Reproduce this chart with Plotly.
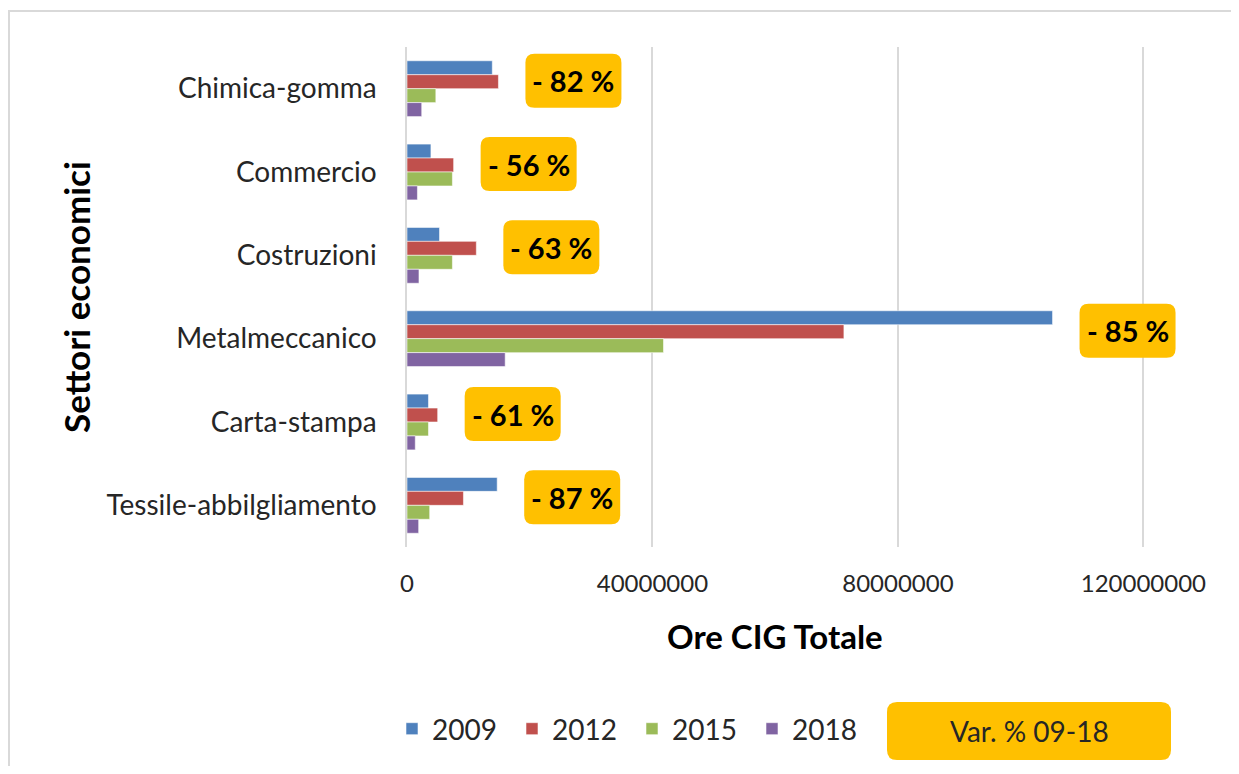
import plotly.graph_objects as go

# ---- data ----
sectors = ["Chimica-gomma", "Commercio", "Costruzioni", "Metalmeccanico",
           "Carta-stampa", "Tessile-abbilgliamento"]
years = ["2009", "2012", "2015", "2018"]
v2009 = [13900000, 3900000, 5300000, 105200000, 3500000, 14700000]
v2012 = [14900000, 7600000, 11300000, 71200000, 5000000, 9200000]
v2015 = [4700000, 7400000, 7400000, 41800000, 3500000, 3700000]
v2018 = [2400000, 1700000, 1950000, 16000000, 1350000, 1900000]
var_labels = ["- 82 %", "- 56 %", "- 63 %", "- 85 %", "- 61 %", "- 87 %"]
x_ticks = [0, 40000000, 80000000, 120000000]
x_ticktext = ["0", "40000000", "80000000", "120000000"]
colors = ["#4F81BD", "#C0504D", "#9BBB59", "#8064A2"]

# ---- layout constants (pixels, in window coordinates) ----
OFF = 8                      # default body margin of the html page
W, H = 1239 - 2 * OFF, 774 - 2 * OFF
L, R, T, B = 407 - OFF, 1217 - OFF, 47 - OFF, 547 - OFF
XMAX = 132000000
FONT = "Lato"
TXT = "#262626"
ORANGE = "#FFC000"


def px2paper_x(px):
    return (px - OFF - L) / (R - L)


def px2paper_y(py):
    return (B - (py - OFF)) / (B - T)


def rounded_path(x0, y0, x1, y1, r):
    # pixel coords, y positive up (plotly pixel sizemode)
    return (f"M{x0 + r},{y0} L{x1 - r},{y0} Q{x1},{y0} {x1},{y0 + r} "
            f"L{x1},{y1 - r} Q{x1},{y1} {x1 - r},{y1} L{x0 + r},{y1} "
            f"Q{x0},{y1} {x0},{y1 - r} L{x0},{y0 + r} Q{x0},{y0} {x0 + r},{y0} Z")


fig = go.Figure()
for name, vals, col in zip(years, [v2009, v2012, v2015, v2018], colors):
    fig.add_trace(go.Bar(
        y=sectors, x=vals, name=name, orientation="h",
        marker=dict(color=col, line=dict(color="rgba(255,255,255,0.55)", width=1)),
        hoverinfo="x+name",
    ))

shapes = []
annotations = []

# variation boxes anchored at the largest bar of each sector
for i, s in enumerate(sectors):
    mx = max(v2009[i], v2012[i], v2015[i], v2018[i])
    shapes.append(dict(
        type="path", xref="x", yref="y", xsizemode="pixel", ysizemode="pixel",
        xanchor=mx, yanchor=s,
        path=rounded_path(27, -19, 123, 35, 9),
        fillcolor=ORANGE, line=dict(width=0), layer="above",
    ))
    annotations.append(dict(
        x=mx, y=s, xref="x", yref="y", xshift=75, yshift=8,
        text=f"<b>{var_labels[i]}</b>", showarrow=False,
        font=dict(family=FONT, size=29, color="#000000"),
        xanchor="center", yanchor="middle",
    ))

# outer chart border
shapes.append(dict(
    type="rect", xref="paper", yref="paper",
    x0=px2paper_x(9), x1=px2paper_x(1280), y0=px2paper_y(820), y1=px2paper_y(11),
    line=dict(color="#D9D9D9", width=2), fillcolor="rgba(0,0,0,0)", layer="below",
))

# legend extra box "Var. % 09-18"
shapes.append(dict(
    type="path", xref="paper", yref="paper", xsizemode="pixel", ysizemode="pixel",
    xanchor=px2paper_x(887), yanchor=px2paper_y(731),
    path=rounded_path(0, -29, 284, 29, 10),
    fillcolor=ORANGE, line=dict(width=0),
))
annotations.append(dict(
    x=px2paper_x(1029), y=px2paper_y(731), xref="paper", yref="paper",
    text="Var. % 09-18", showarrow=False,
    font=dict(family=FONT, size=28, color=TXT), xanchor="center", yanchor="middle",
))

# axis titles
annotations.append(dict(
    x=x_ticks[-1] / 2, y=px2paper_y(636), xref="x", yref="paper",
    text="<b>Ore CIG Totale</b>", showarrow=False,
    font=dict(family=FONT, size=33, color="#000000"), xanchor="center", yanchor="middle",
))
annotations.append(dict(
    x=px2paper_x(76), y=0.5, xref="paper", yref="paper",
    text="<b>Settori economici</b>", showarrow=False, textangle=-90,
    font=dict(family=FONT, size=35, color="#000000"), xanchor="center", yanchor="middle",
))

fig.update_layout(
    width=W, height=H,
    margin=dict(l=L, r=W - R, t=T, b=H - B, autoexpand=False),
    paper_bgcolor="white", plot_bgcolor="white",
    barmode="group", bargap=0.33, bargroupgap=0,
    font=dict(family=FONT, size=24, color=TXT),
    xaxis=dict(
        range=[0, XMAX], tickvals=x_ticks, ticktext=x_ticktext,
        showgrid=True, gridcolor="#D9D9D9", gridwidth=1.5,
        zeroline=False, showline=False, ticks="", ticklabelstandoff=20,
        tickfont=dict(family=FONT, size=24, color=TXT),
    ),
    yaxis=dict(
        type="category", categoryorder="array", categoryarray=sectors,
        autorange="reversed", showgrid=False, zeroline=False,
        showline=True, linecolor="#D9D9D9", linewidth=1.5,
        ticks="", ticklabelstandoff=23,
        tickfont=dict(family=FONT, size=28, color=TXT),
    ),
    legend=dict(
        orientation="h", x=px2paper_x(392), y=px2paper_y(729),
        xanchor="left", yanchor="middle",
        font=dict(family=FONT, size=28, color=TXT),
        entrywidth=75, entrywidthmode="pixels", traceorder="normal",
        bgcolor="rgba(0,0,0,0)",
    ),
    shapes=shapes, annotations=annotations,
    showlegend=True,
)

fig.write_html("out.html")
